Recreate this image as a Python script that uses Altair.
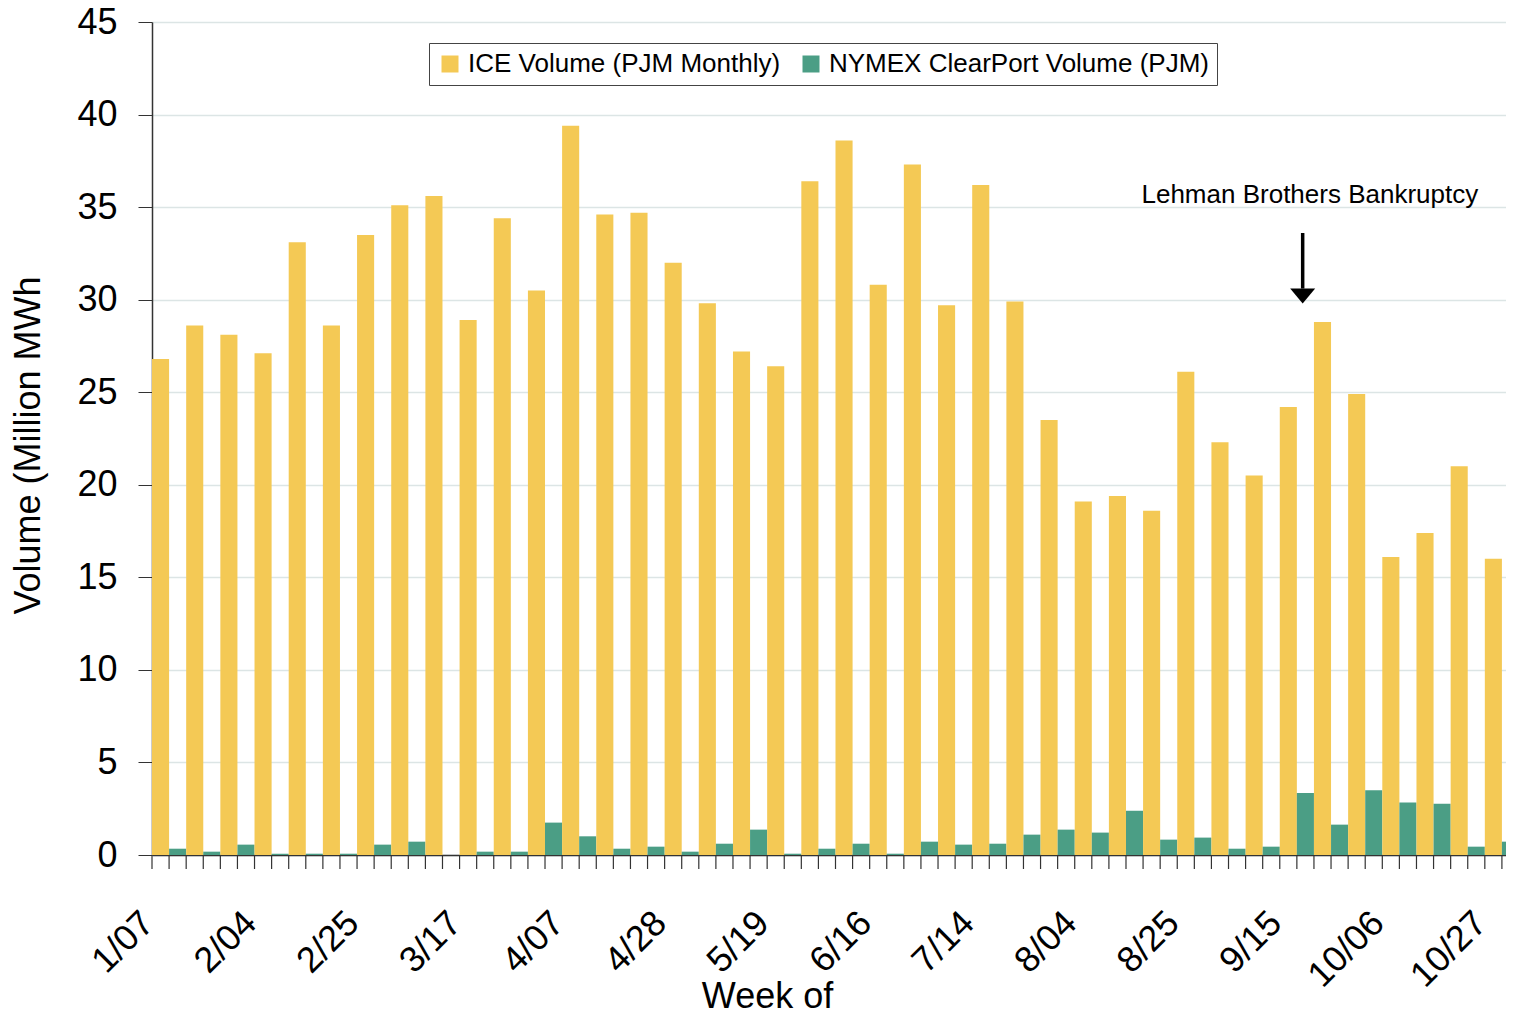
import altair as alt
import pandas as pd

# ---- data ----
weeks = ["1/07", "1/14", "1/21", "2/04", "2/11", "2/18", "2/25", "3/03", "3/10", "3/17",
         "3/24", "3/31", "4/07", "4/14", "4/21", "4/28", "5/05", "5/12", "5/19", "6/02",
         "6/09", "6/16", "6/23", "7/07", "7/14", "7/21", "7/28", "8/04", "8/11", "8/18",
         "8/25", "9/01", "9/08", "9/15", "9/22", "9/29", "10/06", "10/13", "10/20", "10/27"]
shown_labels = ["1/07", "2/04", "2/25", "3/17", "4/07", "4/28", "5/19", "6/16", "7/14",
                "8/04", "8/25", "9/15", "10/06", "10/27"]
ice = [26.8, 28.6, 28.1, 27.1, 33.1, 28.6, 33.5, 35.1, 35.6, 28.9,
       34.4, 30.5, 39.4, 34.6, 34.7, 32.0, 29.8, 27.2, 26.4, 36.4,
       38.6, 30.8, 37.3, 29.7, 36.2, 29.9, 23.5, 19.1, 19.4, 18.6,
       26.1, 22.3, 20.5, 24.2, 28.8, 24.9, 16.1, 17.4, 21.0, 16.0]
nymex = [0.34, 0.18, 0.56, 0.07, 0.07, 0.07, 0.56, 0.72, 0.0, 0.18,
         0.18, 1.75, 1.01, 0.34, 0.45, 0.18, 0.61, 1.37, 0.07, 0.34,
         0.61, 0.07, 0.72, 0.56, 0.61, 1.10, 1.37, 1.21, 2.39, 0.83,
         0.94, 0.34, 0.45, 3.35, 1.64, 3.50, 2.83, 2.77, 0.45, 0.72]
series = ["ICE Volume (PJM Monthly)", "NYMEX ClearPort Volume (PJM)"]
colors = ["#F4C955", "#4B9E85"]

annot_week = "9/15"
annot_text = "Lehman Brothers Bankruptcy"
arrow_top, arrow_end, arrow_head = 33.6, 30.6, 30.2
text_y = 35.2

FONT = "Liberation Sans"
W, H = 1354, 833      # visible plot area (the category axis runs on past the right edge)
XRANGE = 1367

rows = []
for w, a, b in zip(weeks, ice, nymex):
    rows.append({"week": w, "series": series[0], "value": a})
    rows.append({"week": w, "series": series[1], "value": b})
df = pd.DataFrame(rows)
wk = pd.DataFrame({"week": weeks})
ann = pd.DataFrame({"week": [annot_week], "y1": [arrow_top], "y2": [arrow_end],
                    "yh": [arrow_head], "ty": [text_y], "label": [annot_text]})

xscale = alt.Scale(domain=weeks, paddingInner=0, paddingOuter=0, range=[0, XRANGE])
label_expr = "indexof(" + str(shown_labels).replace("'", '"') + ", datum.value) >= 0 ? datum.value : ''"

yscale = alt.Scale(domain=[0, 45], nice=False)

bars = alt.Chart(df).mark_bar().encode(
    x=alt.X("week:N", scale=xscale, sort=weeks,
            axis=alt.Axis(title="Week of", labelExpr=label_expr, labelAngle=315,
                          labelAlign="right", labelBaseline="middle",
                          labelFontSize=36, labelPadding=62, tickSize=0,
                          labelOffset=-21, labelOverlap=False,
                          domainColor="#333", domainWidth=1.5,
                          titleFontSize=36, titleFontWeight="normal",
                          titleX=615, titleY=152, titleBaseline="alphabetic",
                          titleAlign="center", grid=False)),
    xOffset=alt.XOffset("series:N", sort=series,
                        scale=alt.Scale(domain=series, paddingInner=0, paddingOuter=0)),
    y=alt.Y("value:Q", scale=yscale,
            axis=alt.Axis(title="Volume (Million MWh", values=list(range(0, 50, 5)),
                          labelFontSize=36, labelPadding=21, tickSize=14,
                          tickColor="#333", domainColor="#333", domainWidth=1.5,
                          gridColor="#DCE5E5", gridWidth=1.5,
                          titleFontSize=36, titleFontWeight="normal",
                          titleX=-113, titleY=423, titleAngle=270,
                          titleBaseline="alphabetic", titleAlign="center")),
    color=alt.Color("series:N", scale=alt.Scale(domain=series, range=colors),
                    legend=alt.Legend(orient="none", legendX=277, legendY=21,
                                      direction="horizontal", title=None,
                                      labelFontSize=26, symbolType="square",
                                      symbolSize=289, symbolStrokeWidth=0,
                                      labelOffset=5, columnPadding=17, padding=8,
                                      strokeColor="#444", fillColor="white",
                                      labelLimit=600)),
)

ticks_a = alt.Chart(wk).mark_rule(color="#333", strokeWidth=1.2).encode(
    x=alt.X("week:N", scale=xscale, sort=weeks, bandPosition=0),
    y=alt.value(H), y2=alt.value(H + 14))
ticks_b = alt.Chart(wk).mark_rule(color="#333", strokeWidth=1.2).encode(
    x=alt.X("week:N", scale=xscale, sort=weeks, bandPosition=0.5),
    y=alt.value(H), y2=alt.value(H + 14))

shaft = alt.Chart(ann).mark_rule(color="black", strokeWidth=3.5).encode(
    x=alt.X("week:N", scale=xscale, sort=weeks, bandPosition=0.67),
    y=alt.Y("y1:Q", scale=yscale), y2="y2:Q")
head = alt.Chart(ann).mark_point(shape="M-1,-0.6L1,-0.6L0,0.6Z", filled=True,
                                 color="black", size=625, opacity=1).encode(
    x=alt.X("week:N", scale=xscale, sort=weeks, bandPosition=0.67),
    y=alt.Y("yh:Q", scale=yscale))
txt = alt.Chart(ann).mark_text(fontSize=26, align="center", baseline="alphabetic",
                               color="black", font=FONT).encode(
    x=alt.X("week:N", scale=xscale, sort=weeks, bandPosition=0.88),
    y=alt.Y("ty:Q", scale=yscale), text="label:N")

chart = alt.layer(bars, ticks_a, ticks_b, shaft, head, txt).properties(
    width=W, height=H,
    padding={"left": 144, "top": 14, "right": 0, "bottom": 156},
    autosize=alt.AutoSizeParams(type="none"),
).configure(font=FONT).configure_view(stroke=None).configure_axis(
    labelColor="black", titleColor="black", labelFont=FONT, titleFont=FONT
).configure_legend(labelFont=FONT, labelColor="black")

chart.save("out.html", embed_options={"renderer": "svg", "actions": False})
